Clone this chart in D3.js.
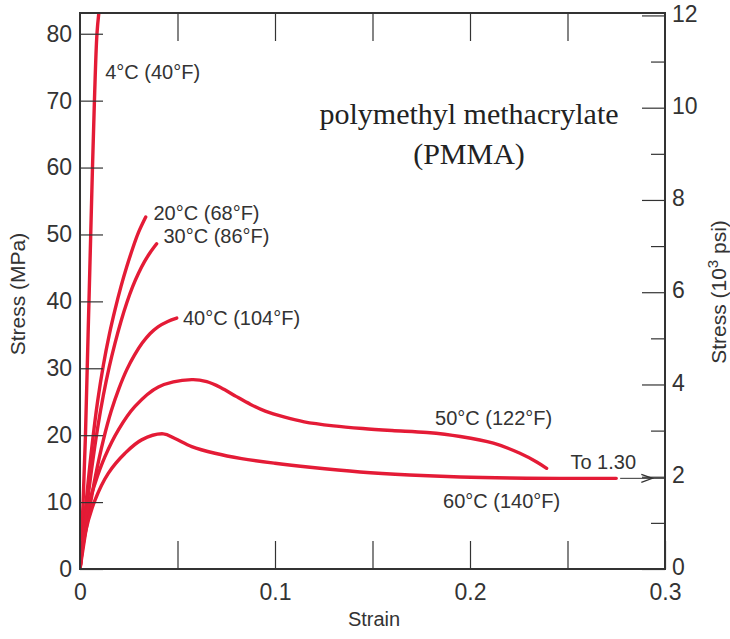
<!DOCTYPE html>
<html>
<head>
<meta charset="utf-8">
<script src="https://cdn.jsdelivr.net/npm/d3@7"></script>
<style>
  body { margin: 0; background: #fff; }
  svg text { font-family: "Liberation Sans", Arial, sans-serif; fill: #333; }
</style>
</head>
<body>
<div id="chart"></div>
<script>
// strain / stress (MPa)
const curve4C  = [[0,0],[0.0016,10],[0.0028,20],[0.0037,30],[0.0046,40],[0.0055,50],[0.0064,60],[0.0074,70],[0.0087,80],[0.0098,83.5]];
const curve20C = [[0,0],[0.003,9.5],[0.006,18],[0.009,25],[0.012,30.5],[0.015,35],[0.018,38.8],[0.021,42.2],
                  [0.024,45.2],[0.027,47.9],[0.030,50.3],[0.0337,52.6]];
const curve30C = [[0,0],[0.003,8],[0.006,15],[0.009,21],[0.012,26],[0.015,30.2],[0.018,33.8],[0.021,37],
                  [0.024,39.8],[0.027,42.2],[0.030,44.2],[0.033,45.9],[0.036,47.3],[0.0393,48.6]];
const curve40C = [[0,0],[0.004,7.5],[0.008,14],[0.012,19.3],[0.016,23.6],[0.020,27],[0.024,29.8],[0.028,32],
                  [0.032,33.8],[0.036,35.2],[0.040,36.2],[0.045,37],[0.0496,37.5]];
const curve50C = [[0,0],[0.0034,8.3],[0.0077,12.8],[0.0128,16.8],[0.0197,20.8],[0.0282,24.3],[0.0402,27.2],[0.0573,28.3],
                  [0.065,28.0],[0.0723,27.1],[0.080,25.8],[0.0875,24.6],[0.095,23.6],[0.105,22.7],[0.115,22.0],
                  [0.130,21.4],[0.145,21.0],[0.160,20.7],[0.178,20.4],[0.195,19.8],[0.212,18.8],[0.2256,17.3],
                  [0.2342,16.0],[0.2393,15.05]];
const curve60C = [[0,0],[0.0026,5.3],[0.0077,10.3],[0.0145,14.3],[0.0231,17.3],[0.0316,19.3],[0.0427,20.2],[0.0487,19.5],
                  [0.0573,18.3],[0.0692,17.3],[0.0829,16.5],[0.1,15.8],[0.118,15.2],[0.1436,14.5],[0.169,14.05],
                  [0.195,13.75],[0.2205,13.6],[0.246,13.55],[0.275,13.55]];

const curveLabels = ["4°C (40°F)","20°C (68°F)","30°C (86°F)","40°C (104°F)","50°C (122°F)","60°C (140°F)"];
const labelAt = [[0.0129,73.3],[0.0377,52.2],[0.0428,48.7],[0.0528,36.4],[0.1821,21.5],[0.1862,9.1]];

const strainTicks = [0,0.05,0.1,0.15,0.2,0.25,0.3];
const mpaTicks = [0,10,20,30,40,50,60,70,80];
const ksiTicks = [0,1,2,3,4,5,6,7,8,9,10,11,12];
const toLabel = "To 1.30";
const arrowStrain = [0.277,0.2995];
const arrowStress = 13.55;

const W = 730, H = 639;
const mLeft = 80, mRight = 665, mTop = 13, mBottom = 569;

const svg = d3.select("#chart").append("svg")
  .attr("width", W).attr("height", H);

const x = d3.scaleLinear().domain([0,0.3]).range([mLeft,mRight]);
const y = d3.scaleLinear().domain([0,83.1]).range([mBottom,mTop]);
// 1 ksi = 6.89476 MPa
const yK = y.copy().domain([0,83.1/6.89476]);

// lines
const line = d3.line()
  .x(d => x(d[0])).y(d => y(d[1]))
  .curve(d3.curveCatmullRom.alpha(0.5));

const red = "#e41b36";
svg.append("clipPath").attr("id","plot")
  .append("rect").attr("x",mLeft).attr("y",mTop).attr("width",mRight-mLeft).attr("height",mBottom-mTop);

svg.append("g").attr("clip-path","url(#plot)")
  .selectAll("path")
  .data([curve4C,curve20C,curve30C,curve40C,curve50C,curve60C])
  .enter().append("path")
  .attr("d", line)
  .attr("fill","none")
  .attr("stroke",red)
  .attr("stroke-width",3.4)
  .attr("stroke-linecap","round")
  .attr("stroke-linejoin","round");

// axes
const tickStyle = g => {
  g.select(".domain").remove();
  g.selectAll(".tick line").attr("stroke","#333").attr("stroke-width",1.2);
  g.selectAll(".tick text").attr("fill","#333").style("font-size","23px")
    .style("font-family","'Liberation Sans', Arial, sans-serif");
};

svg.append("g").attr("transform",`translate(${mLeft},0)`)
  .call(d3.axisLeft(y).tickValues(mpaTicks).tickSize(-23).tickPadding(8))
  .call(tickStyle);

svg.append("g").attr("transform",`translate(0,${mBottom})`)
  .call(d3.axisBottom(x).tickValues(strainTicks).tickSize(-28).tickPadding(15)
    .tickFormat(d => Math.abs(d*10 - Math.round(d*10)) < 1e-9 ? String(+d.toFixed(1)) : ""))
  .call(tickStyle);

svg.append("g").attr("transform",`translate(0,${mTop})`)
  .call(d3.axisTop(x).tickValues(strainTicks.filter(d => d > 0 && d < 0.3)).tickSize(-28).tickFormat(""))
  .call(tickStyle);

svg.append("g").attr("transform",`translate(${mRight},0)`)
  .call(d3.axisRight(yK).tickValues(ksiTicks.filter(d => d % 2 === 0)).tickSize(-23).tickPadding(7))
  .call(tickStyle)
  .call(g => g.selectAll(".tick text").attr("dy","0.25em"));

svg.append("g").attr("transform",`translate(${mRight},0)`)
  .call(d3.axisRight(yK).tickValues(ksiTicks.filter(d => d % 2 === 1)).tickSize(-14).tickFormat(""))
  .call(tickStyle);

// frame
svg.append("rect")
  .attr("x",mLeft).attr("y",mTop)
  .attr("width",mRight-mLeft).attr("height",mBottom-mTop)
  .attr("fill","none").attr("stroke","#333").attr("stroke-width",2);

// curve labels
svg.append("g").selectAll("text")
  .data(curveLabels)
  .enter().append("text")
  .attr("x",(d,i) => x(labelAt[i][0]))
  .attr("y",(d,i) => y(labelAt[i][1]))
  .style("font-size","20px")
  .text(d => d);

// "To 1.30" arrow
svg.append("text")
  .attr("x", x(0.2515)).attr("y", y(arrowStress) - 9)
  .style("font-size","20px")
  .text(toLabel);

svg.append("line")
  .attr("x1", x(arrowStrain[0])).attr("x2", x(arrowStrain[1]))
  .attr("y1", y(arrowStress)).attr("y2", y(arrowStress))
  .attr("stroke","#333").attr("stroke-width",1);

const tipX = x(0.2935), tipY = y(arrowStress);
svg.append("path")
  .attr("d", `M${tipX-11},${tipY-4}L${tipX},${tipY}L${tipX-11},${tipY+4}`)
  .attr("fill","none").attr("stroke","#333").attr("stroke-width",1.3);

// title
const title = svg.append("text")
  .attr("x",469).attr("y",124)
  .attr("text-anchor","middle")
  .style("font-family","'Liberation Serif', 'Times New Roman', serif")
  .style("font-size","30px")
  .style("fill","#222");
title.append("tspan").attr("x",469).text("polymethyl methacrylate");
title.append("tspan").attr("x",469).attr("dy",40).text("(PMMA)");

// axis titles
svg.append("text")
  .attr("x",374).attr("y",626)
  .attr("text-anchor","middle")
  .style("font-size","20px")
  .text("Strain");

svg.append("text")
  .attr("transform","translate(25,294) rotate(-90)")
  .attr("text-anchor","middle")
  .style("font-size","21px")
  .text("Stress (MPa)");

const rt = svg.append("text")
  .attr("transform","translate(726,292) rotate(-90)")
  .attr("text-anchor","middle")
  .style("font-size","21px");
rt.append("tspan").text("Stress (10");
rt.append("tspan").attr("dy",-8).style("font-size","15px").text("3");
rt.append("tspan").attr("dy",8).text(" psi)");
</script>
</body>
</html>
